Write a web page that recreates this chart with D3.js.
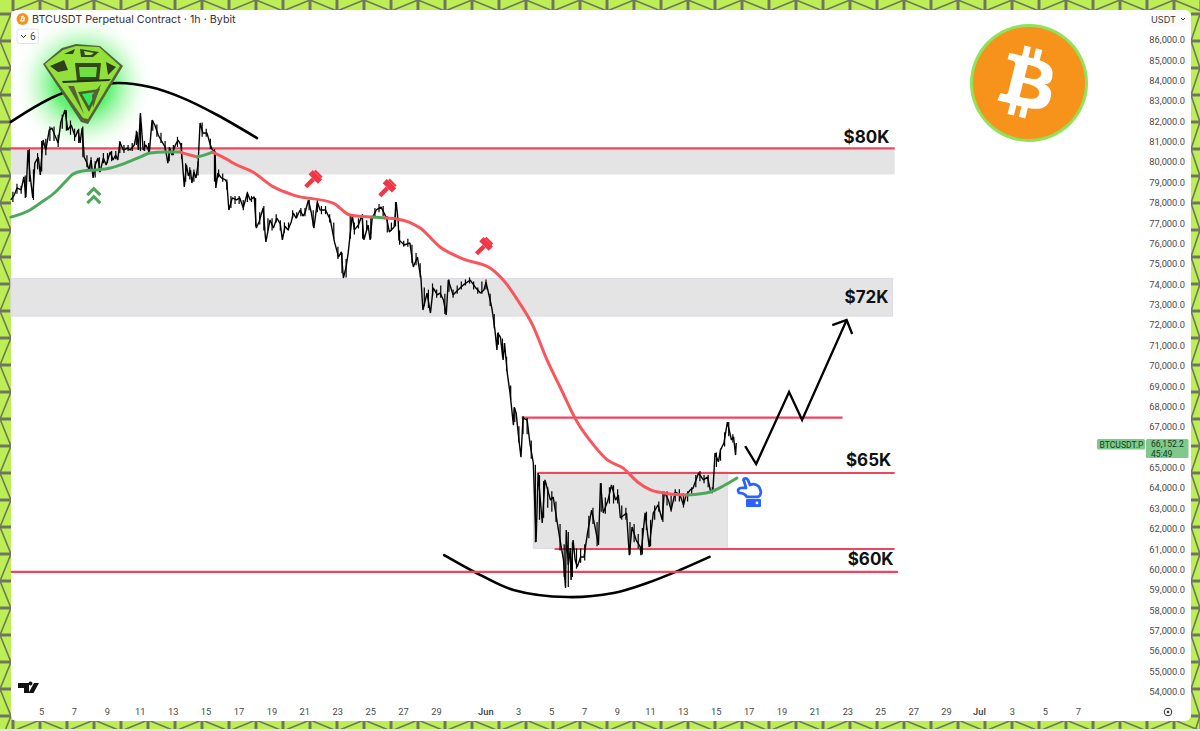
<!DOCTYPE html>
<html><head><meta charset="utf-8">
<script src="https://cdn.jsdelivr.net/npm/d3@7/dist/d3.min.js"></script>
<style>html,body{margin:0;padding:0;background:#fff;overflow:hidden}svg{display:block}text{font-family:Roboto,sans-serif}</style>
</head><body><svg id="c" width="1200" height="731"></svg>
<script>
// Hours since 2024-05-03 04:00 UTC
const priceHours=[0,5,9,15,19,22,25,28,32,35,40,43,47,51,56,60,64,69,73,79,83,88,94,98,101,104,107,111,114,117,120,123,127,130,135,139,145,149,153,156,159,164,170,174,180,184,186,189,193,197,202,206,210,215,219,225,229,232,235,240,244,248,250,253,256,259,262,264,267,270,273,276,280,286,291,294,298,299,302,307,313,315,318,323,329,334,339,345,349,355,358,362,368,371,372,378,383,388,393,396,400,404,409,412,416,422,426,429,434,438,442,447,451,459,466,472,478,482,485,489,492,498,501,507,512,515,521,524,527,533,540,548,552,559,562,565,566,574,582,587,593,596,598,601,607,612,616,622,626,631,635,638,645,652,660,670,677,685,690,693,699,702,706,709,710,714,718,720,724,728,733,734,737,741,744,747,753,757,762,766,769,775,779,787,791,797,801,806,809,810,813,816,817,820,823,826,831,836,841,847,852,857,860,864,871,876,882,886,889,898,902,906,912,918,919,925,931,937,944,950,953,959,963,969,976,981,985,991,995,1003,1010,1016,1021,1024,1027,1032,1035,1040,1045,1051,1054,1057,1058];
const priceValues=[78.10,78.34,78.69,78.59,79.23,78.25,80.55,79.33,78.20,79.91,80.21,79.33,81.04,80.55,81.53,81.63,81.29,80.90,81.93,82.52,81.53,81.78,81.19,81.53,80.90,81.63,80.21,79.91,79.57,80.06,79.18,79.82,80.16,79.47,80.16,79.82,80.45,80.06,80.31,80.06,80.94,80.55,80.65,80.55,80.80,81.44,80.55,82.37,80.55,80.80,80.45,82.02,81.78,81.29,81.04,80.70,79.91,80.65,80.31,80.80,81.04,80.80,80.06,78.74,79.82,79.28,79.57,78.93,79.47,79.18,79.82,81.88,81.39,81.39,80.80,80.55,80.45,78.69,79.42,79.18,79.08,78.98,77.61,78.20,78.10,78.20,77.71,78.44,78.10,78.25,76.72,77.02,77.71,76.38,76.04,77.12,76.72,77.21,76.92,76.14,76.82,76.63,77.02,77.46,77.21,77.61,77.31,77.46,78.10,77.51,76.72,78.00,77.61,77.61,77.12,76.04,75.30,75.55,74.27,74.81,75.50,77.36,76.63,76.87,77.36,76.14,76.87,76.14,77.21,77.61,77.75,77.21,76.53,76.77,78.00,77.02,76.14,75.89,75.99,74.81,75.30,74.66,74.32,72.70,73.53,72.55,73.78,73.44,73.53,73.19,72.45,74.17,73.44,73.68,73.93,74.17,73.83,73.53,73.68,74.07,73.19,72.70,71.72,70.74,71.57,71.37,70.25,71.08,69.61,68.63,67.05,67.93,67.64,66.32,65.48,67.40,67.30,66.17,65.19,61.31,64.70,62.25,64.36,63.37,63.52,62.25,61.41,60.43,59.06,61.90,60.18,61.02,59.45,61.41,60.43,60.09,60.58,60.58,61.75,62.88,62.05,61.17,64.21,62.74,63.37,64.11,63.37,63.62,62.49,62.74,60.67,62.05,61.41,61.07,60.67,62.74,61.07,62.74,63.13,62.39,63.77,63.37,62.88,63.77,63.62,63.13,63.62,63.87,63.96,64.70,64.36,64.50,63.72,63.87,65.68,65.24,65.83,66.17,67.20,66.32,66.47,65.58,66.17];
// Six-hourly lows and highs, first bar at hour 3
const wickLows=[78.0,78.4,78.4,78.2,79.0,78.1,79.6,79.5,80.3,81.0,81.0,80.7,81.6,81.5,81.3,81.0,80.9,80.2,79.7,79.6,79.2,79.5,79.9,79.9,80.0,80.1,80.4,80.4,80.5,80.5,80.8,80.5,80.5,80.4,81.5,81.2,80.9,80.5,80.0,80.3,80.7,80.1,79.0,79.1,79.0,79.3,81.2,81.2,80.6,79.0,79.2,79.0,78.6,77.7,77.9,77.9,77.6,78.0,78.0,76.8,76.9,76.6,76.6,76.6,77.0,76.6,76.5,76.6,77.2,77.2,77.3,77.3,77.6,76.8,77.5,77.4,77.4,77.0,76.2,75.2,74.5,74.3,76.2,76.4,76.7,76.2,76.6,76.2,77.2,77.5,77.3,76.5,76.6,76.8,75.9,75.8,75.8,75.0,74.9,74.3,72.9,72.8,73.4,73.3,73.3,72.5,73.6,73.3,73.5,73.7,73.9,74.0,73.7,73.5,73.5,73.7,72.9,71.8,71.0,70.4,69.7,68.3,67.2,66.2,66.6,66.6,65.4,61.3,62.4,62.5,63.0,62.8,62.3,60.9,59.6,59.1,59.6,60.0,60.3,60.4,61.5,62.2,61.1,62.8,62.7,63.2,63.2,63.2,62.4,62.4,60.7,61.3,61.0,60.7,61.9,61.1,62.4,62.8,62.3,63.1,62.8,63.3,63.3,63.0,63.3,63.6,64.0,64.3,64.2,64.0,63.7,65.0,65.3,66.0,66.5,66.2];
const wickHighs=[78.5,78.9,78.8,79.3,80.6,79.6,80.4,81.0,81.1,81.7,81.7,81.3,82.3,82.5,82.0,81.6,81.6,81.7,80.3,80.2,80.0,80.2,80.4,80.4,80.5,80.5,81.0,80.8,80.8,80.9,81.5,82.3,81.0,80.9,82.0,81.8,81.4,81.0,80.7,80.8,81.2,80.9,79.9,79.7,79.6,80.0,81.9,81.6,81.1,80.6,79.6,79.4,79.1,78.3,78.3,78.3,78.1,78.5,78.3,78.2,77.5,77.8,77.2,77.2,77.4,77.1,77.0,77.0,77.6,77.5,77.7,77.7,78.1,77.6,78.1,77.8,77.8,77.4,77.0,75.8,75.5,75.2,77.4,77.0,77.2,77.4,77.1,77.2,77.7,77.9,77.8,77.3,77.0,78.0,76.6,76.1,76.2,75.9,75.5,75.0,73.8,73.7,74.0,73.7,73.9,73.5,74.2,73.7,73.9,74.1,74.2,74.3,74.1,73.8,74.1,74.2,73.5,72.5,71.6,71.3,70.4,69.0,67.9,67.0,67.5,67.4,66.3,65.1,64.6,64.3,64.0,63.8,63.3,62.2,61.2,61.8,61.3,61.0,61.0,61.2,62.6,63.0,62.3,64.2,63.5,64.0,64.1,63.9,63.1,63.0,62.3,62.2,61.7,62.0,62.8,62.4,63.1,63.3,63.8,63.8,63.6,63.9,63.9,63.7,63.8,64.0,64.6,64.8,64.6,64.6,64.0,65.7,65.9,66.7,67.2,66.6];
const maHours=[0,28,43,65,79,91,105,123,145,167,189,203,225,247,261,272,283,294,317,324,353,383,412,470,495,528,546,563,597,626,660,699,724,739,761,782,801,826,850,870,893,914,933,952,987,1020,1039,1059];
const maValues=[77.26,77.61,77.95,78.49,78.98,79.37,79.52,79.57,79.67,79.91,80.21,80.41,80.45,80.45,80.31,80.21,80.31,80.45,80.06,79.91,79.47,78.74,78.34,77.95,77.36,77.26,77.21,77.17,76.72,75.79,75.20,74.76,73.93,73.19,71.96,70.25,68.92,67.20,66.07,65.34,64.94,64.26,63.87,63.72,63.62,63.77,64.06,64.45];
const maGreenFrom=[0,272,528,987];
const maGreenTo=[247,294,546,1059];
const topArcHours=[0,76,155,203,251,301,359];
const topArcValues=[81.93,83.35,83.84,83.64,83.10,82.27,81.14];
const bottomArcHours=[632,685,733,812,879,928,976,1019];
const bottomArcValues=[60.67,59.69,58.96,58.61,58.81,59.30,59.94,60.58];
const projectionHours=[1071,1087,1135,1154,1219];
const projectionValues=[66.02,65.14,68.67,67.30,72.21];
const arrowHeadHours=[1198,1219,1227];
const arrowHeadValues=[71.96,72.21,71.52];
const levelValues=[80.63,67.42,64.70,60.97,59.85];
const levelFrom=[0,745,768,793,0];
const levelTo=[1289,1213,1289,1289,1294];
const zoneTop=[80.63,74.25,64.75];
const zoneBottom=[79.35,72.40,61.00];
const zoneFrom=[0,0,762];
const zoneTo=[1289,1286,1045];
const levelLabels=["$80K","$72K","$65K","$60K"];
const levelLabelHours=[1248,1248,1251,1254];
const levelLabelValues=[81.20,73.34,65.34,60.50];
const gavelHours=[441,549,690];
const gavelValues=[79.13,78.69,75.84];
const axisPrices=d3.range(54,87).filter(v=>v!==66);
const dayTicks=[5,7,9,11,13,15,17,19,21,23,25,27,29,"Jun",3,5,7,9,11,13,15,17,19,21,23,25,27,29,"Jul",3,5,7];
const dayTickDates=["05-05","05-07","05-09","05-11","05-13","05-15","05-17","05-19","05-21","05-23","05-25","05-27","05-29","06-01","06-03","06-05","06-07","06-09","06-11","06-13","06-15","06-17","06-19","06-21","06-23","06-25","06-27","06-29","07-01","07-03","07-05","07-07"];

const svg=d3.select("#c");
const defs=svg.append("defs");
const t0=Date.UTC(2024,4,3,4);
const xTime=d3.scaleUtc().domain([new Date(Date.UTC(2024,4,5)),new Date(Date.UTC(2024,6,1))]).range([41,979]);
const x=h=>xTime(new Date(t0+h*3600e3));
const y=d3.scaleLinear().domain([86,54]).range([39,691]);

// frame
const LIME="#bdee55",STRUT="#6f7660";
svg.append("rect").attr("width",1200).attr("height",731).attr("fill",LIME);
const fr=svg.append("g").attr("stroke",STRUT).attr("fill","none");
const cell=27;
d3.range(0,46).forEach(i=>{const X=13+i*cell;
 [[0,11],[720,731]].forEach(([a,b])=>{
  fr.append("line").attr("x1",X).attr("x2",X).attr("y1",a).attr("y2",b).attr("stroke-width",3);
  fr.append("line").attr("x1",X).attr("x2",X+cell).attr("y1",i%2?a:b).attr("y2",i%2?b:a).attr("stroke-width",1.6);
 });
});
d3.range(0,28).forEach(i=>{const Y=14+i*cell;
 [[0,11],[1191,1200]].forEach(([a,b])=>{
  fr.append("line").attr("y1",Y).attr("y2",Y).attr("x1",a).attr("x2",b).attr("stroke-width",3);
  fr.append("line").attr("y1",Y).attr("y2",Y+cell).attr("x1",i%2?a:b).attr("x2",i%2?b:a).attr("stroke-width",1.6);
 });
});
svg.append("rect").attr("x",0).attr("y",729).attr("width",1200).attr("height",2).attr("fill","#e4e4e4");
svg.append("rect").attr("x",11).attr("y",10).attr("width",1180).attr("height",711).attr("rx",6).attr("fill","#fff");

// zones
const zoneG=svg.append("g");
zoneTop.forEach((t,i)=>zoneG.append("rect").attr("x",x(zoneFrom[i])).attr("width",x(zoneTo[i])-x(zoneFrom[i]))
  .attr("y",y(t)).attr("height",y(zoneBottom[i])-y(t)).attr("fill","#e4e4e5").attr("stroke",i?"#dcd8ec":"none").attr("stroke-width",1));

// glow
const glow=defs.append("radialGradient").attr("id","glow");
[[0,"#22e64a",1],[.4,"#4cf05e",.85],[.72,"#a8f8ae",.42],[1,"#ffffff",0]].forEach(s=>glow.append("stop").attr("offset",s[0]).attr("stop-color",s[1]).attr("stop-opacity",s[2]));
svg.append("circle").attr("cx",83).attr("cy",84).attr("r",70).attr("fill","url(#glow)");

// arcs
const smooth=d3.line().x(d=>x(d[0])).y(d=>y(d[1])).curve(d3.curveCatmullRom);
[[topArcHours,topArcValues],[bottomArcHours,bottomArcValues]].forEach(([h,v])=>
 svg.append("path").attr("d",smooth(h.map((k,i)=>[k,v[i]]))).attr("fill","none").attr("stroke","#000").attr("stroke-width",2.6).attr("stroke-linecap","round"));

// levels
levelValues.forEach((v,i)=>svg.append("line").attr("x1",x(levelFrom[i])).attr("x2",x(levelTo[i])).attr("y1",y(v)).attr("y2",y(v)).attr("stroke","#ee4560").attr("stroke-width",2.2));
levelLabels.forEach((s,i)=>svg.append("text").text(s).attr("x",x(levelLabelHours[i])).attr("y",y(levelLabelValues[i])).attr("dy",6.2).attr("text-anchor","middle").style("font-family","Inter").style("font-weight",700).style("font-size","17px").attr("fill","#111"));

// price wicks and line
const wg=svg.append("g").attr("stroke","#000").attr("stroke-width",1.2);
wickLows.forEach((lo,i)=>{const h=3+i*6;wg.append("line").attr("x1",x(h)).attr("x2",x(h)).attr("y1",y(lo)).attr("y2",y(wickHighs[i]));});
const priceLine=d3.line().x(d=>x(d[0])).y(d=>y(d[1]));
svg.append("path").attr("d",priceLine(priceHours.map((h,i)=>[h,priceValues[i]]))).attr("fill","none").attr("stroke","#000").attr("stroke-width",1.4).attr("stroke-linejoin","bevel");

// moving average, split into coloured runs
const maCurve=d3.line().x(d=>x(d[0])).y(d=>y(d[1])).curve(d3.curveMonotoneX);
const maPts=maHours.map((h,i)=>[h,maValues[i]]);
const isGreen=(a,b)=>{const m=(a+b)/2;return maGreenFrom.some((f,i)=>m>=f&&m<=maGreenTo[i]);};
let run=[maPts[0]],runG=isGreen(maPts[0][0],maPts[1][0]);
function flush(){svg.append("path").attr("d",maCurve(run)).attr("fill","none").attr("stroke",runG?"#4ea85b":"#f9555c").attr("stroke-width",3).attr("stroke-linecap","round");}
for(let i=1;i<maPts.length;i++){const g=isGreen(maPts[i-1][0],maPts[i][0]);if(g!==runG){flush();run=[maPts[i-1]];runG=g;}run.push(maPts[i]);}
flush();

// projection
svg.append("path").attr("d",priceLine(projectionHours.map((h,i)=>[h,projectionValues[i]]))).attr("fill","none").attr("stroke","#000").attr("stroke-width",2.3);
svg.append("path").attr("d",priceLine(arrowHeadHours.map((h,i)=>[h,arrowHeadValues[i]]))).attr("fill","none").attr("stroke","#000").attr("stroke-width",2.3);

// gavels
gavelHours.forEach((h,i)=>{const g=svg.append("g").attr("transform",`translate(${x(h)},${y(gavelValues[i])}) rotate(-45) scale(1.2)`).attr("fill","#f23645");
 g.append("rect").attr("x",-9).attr("y",-1.6).attr("width",9).attr("height",3.6);
 g.append("rect").attr("x",0).attr("y",-5.5).attr("width",5).attr("height",11);
 g.append("rect").attr("x",5).attr("y",-4).attr("width",2).attr("height",8);
});
// support chevrons
const chev=svg.append("g").attr("transform",`translate(${x(121)},${y(78.29)})`).attr("fill","none").attr("stroke","#4ea85b").attr("stroke-width",3);
chev.append("path").attr("d","M-6.5,-1L0,-7.5L6.5,-1");chev.append("path").attr("d","M-6.5,7L0,.5L6.5,7");
// hand
const hand=svg.append("g").attr("transform",`translate(${x(1078)},${y(63.72)})`);
hand.append("path").attr("d","M-6,-12C-8,-14 -4,-16 -2,-13L0,-8C4,-10 9,-8 10,-4C12,0 10,4 7,4L-3,4C-5,1 -7,0 -11,0C-13,-2 -12,-5 -8,-5L-4,-5Z").attr("fill","#fff").attr("stroke","#2962ff").attr("stroke-width",2.8).attr("stroke-linejoin","round");
hand.append("rect").attr("x",-4).attr("y",6).attr("width",15).attr("height",8).attr("rx",1).attr("fill","#2962ff");
hand.append("circle").attr("cx",7).attr("cy",10).attr("r",1.4).attr("fill","#fff");

// gem
const gem=svg.append("g");
const poly=(pts,f)=>gem.append("polygon").attr("points",pts).attr("fill",f);
poly("43,64 62,48 76,44 100,46 123,66 88,124 81,122","#55633a");
poly("45,64 63,50 76,46 99,47 120,66 88,119 83,118","#93e03a");
[["50,66 64,60 68,70 58,72","#2f3f1a"],["75,63 101,63 99,81 77,81","#33481c"],["106,62 116,67 108,75","#2f3f1a"],["79,67 97,67 96,77 80,77","#6fe040"],["80,49 99,52 93,57 81,57","#33481c"],["64,54 75,49 73,54","#2f3f1a"],["84,51 94,53 91,55 85,55","#a8ea4e"],["62,81 111,79 109,81 63,83","#22331a"],["78,92 100,89 89,112","#46602a"],["82,94 96,92 89,106","#35e860"],["68,86 74,86 84,114","#55633a"],["101,84 93,108 92,95","#55633a"]].forEach(p=>poly(p[0],p[1]));

// bitcoin badge
const b=svg.append("g").attr("transform","translate(1029,83)");
b.append("circle").attr("r",59).attr("fill","#8fe35a");
b.append("circle").attr("r",56).attr("fill","#f7931a");
const btc="M46.103,27.444c0.637-4.258-2.605-6.547-7.038-8.074l1.438-5.768l-3.511-0.875l-1.4,5.616c-0.923-0.23-1.871-0.447-2.813-0.662l1.41-5.653l-3.509-0.875l-1.439,5.766c-0.764-0.174-1.514-0.346-2.242-0.527l0.004-0.018l-4.842-1.209l-0.934,3.75c0,0,2.605,0.597,2.55,0.634c1.422,0.355,1.679,1.296,1.636,2.042l-1.638,6.571c0.098,0.025,0.225,0.061,0.365,0.117c-0.117-0.029-0.242-0.061-0.371-0.092l-2.296,9.205c-0.174,0.432-0.615,1.08-1.609,0.834c0.035,0.051-2.552-0.637-2.552-0.637l-1.743,4.019l4.569,1.139c0.85,0.213,1.683,0.436,2.51,0.648l-1.453,5.834l3.507,0.875l1.439-5.772c0.958,0.26,1.888,0.5,2.798,0.726l-1.434,5.745l3.511,0.875l1.453-5.823c5.987,1.133,10.489,0.676,12.384-4.739c1.527-4.36-0.076-6.875-3.226-8.515C44.41,32.84,46.085,31.154,46.103,27.444z M38.67,38.182c-1.085,4.36-8.426,2.003-10.806,1.412l1.928-7.729C32.172,32.459,39.805,33.635,38.67,38.182z M39.755,27.355c-0.99,3.966-7.1,1.951-9.082,1.457l1.748-7.01C34.403,22.296,40.788,23.218,39.755,27.355z";
b.append("path").attr("d",btc).attr("transform","translate(-2,0) scale(1.8) translate(-32,-32)").attr("fill","#fff").attr("fill-rule","evenodd");

// header
const ci=svg.append("g").attr("transform","translate(22.5,19)");
ci.append("circle").attr("r",6).attr("fill","#f7931a");
ci.append("path").attr("d",btc).attr("transform","scale(.17) translate(-32,-32)").attr("fill","#fff").attr("fill-rule","evenodd");
svg.append("text").text("BTCUSDT Perpetual Contract · 1h · Bybit").attr("x",32).attr("y",23).style("font-family","Inter").style("font-size","10.75px").attr("fill","#333");
svg.append("rect").attr("x",17).attr("y",29).attr("width",21.5).attr("height",14.5).attr("rx",2.5).attr("fill","#fff").attr("stroke","#e4e4e4");
svg.append("path").attr("d","M21,35L23.5,37.5L26,35").attr("fill","none").attr("stroke","#333").attr("stroke-width",1);
svg.append("text").text("6").attr("x",30).attr("y",40).style("font-size","10px").attr("fill","#444");
// USDT
svg.append("rect").attr("x",1149).attr("y",10).attr("width",37).attr("height",17).attr("rx",4).attr("fill","#fafafa");
svg.append("text").text("USDT").attr("x",1151).attr("y",23).style("font-family","Inter").style("font-size","9.2px").attr("fill","#3a3a3a");
svg.append("path").attr("d","M1181,18L1183,20L1185,18").attr("fill","none").attr("stroke","#333");

// axes
const yAxis=d3.axisRight(y).tickValues(axisPrices).tickSize(0).tickPadding(0).tickFormat(d=>d3.format(",.1f")(d*1000));
const yg=svg.append("g").attr("transform","translate(1185,0)").call(yAxis);
yg.select(".domain").remove();
yg.selectAll("text").attr("text-anchor","end").attr("x",0).attr("dy","0.4em").style("font-family","Roboto").style("font-size","9.3px").attr("fill","#4a4a4a");
const bottom=d3.axisBottom(xTime).tickValues(dayTickDates.map(s=>new Date(`2024-${s}T00:00:00Z`))).tickSize(0).tickPadding(0).tickFormat((d,i)=>dayTicks[i]);
const xg=svg.append("g").attr("transform","translate(0,708)").call(bottom);
xg.select(".domain").remove();
xg.selectAll("text").style("font-family","Roboto").style("font-size","9.3px").attr("fill","#4a4a4a").style("font-weight",d=>d.getUTCDate()===1?600:400);

// price tag
svg.append("rect").attr("x",1097).attr("y",439).attr("width",48).attr("height",10.5).attr("rx",1.5).attr("fill","#7fc98a");
svg.append("text").text("BTCUSDT.P").attr("x",1099.5).attr("y",447.5).style("font-size","8.6px").attr("fill","#10401c");
svg.append("rect").attr("x",1146).attr("y",439).attr("width",42.5).attr("height",19).attr("rx",1.5).attr("fill","#7fc98a");
svg.append("text").text("66,152.2").attr("x",1151).attr("y",447).style("font-size","8.6px").attr("fill","#10401c");
svg.append("text").text("45:49").attr("x",1151).attr("y",456.6).style("font-size","8.6px").attr("fill","#10401c");

// gear + TV logo
const gear=svg.append("g").attr("transform","translate(1168,712)");
gear.append("circle").attr("r",3.8).attr("fill","none").attr("stroke","#333").attr("stroke-width",1);
gear.append("circle").attr("r",1.3).attr("fill","#333");
svg.append("path").attr("d","M18,683H29V693H24V688H18Z M34,683H39L33.5,693H28.5Z M30.5,685.5a2,2 0 1,1 .01,0Z").attr("fill","#111");
</script></body></html>
